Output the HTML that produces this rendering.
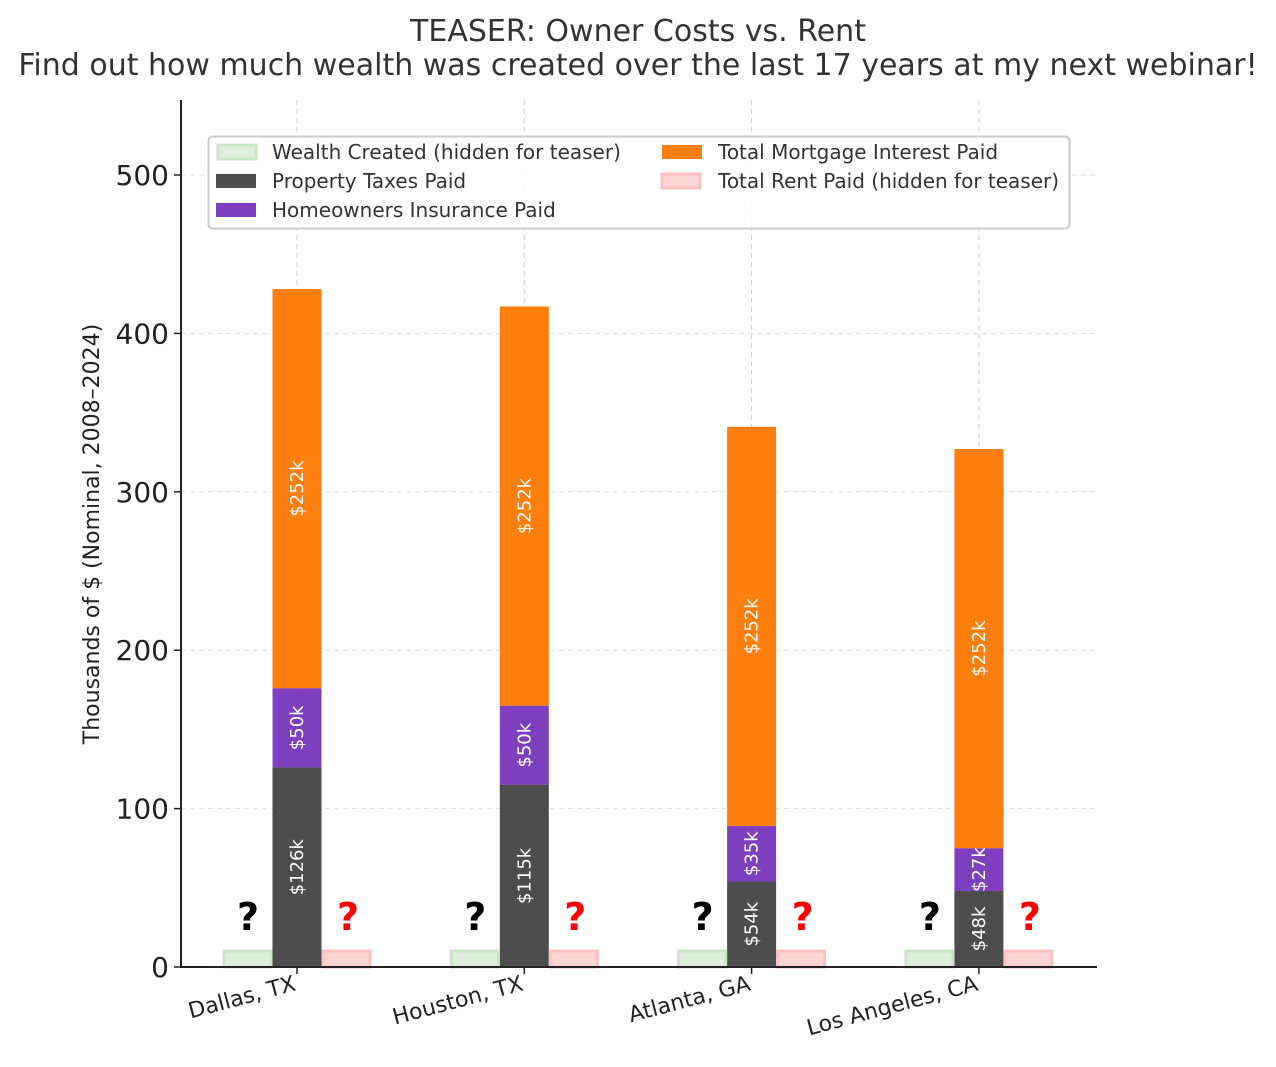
<!DOCTYPE html>
<html><head><meta charset="utf-8"><style>
body{margin:0;background:#fff;overflow:hidden}
svg text{font-family:"DejaVu Sans","Liberation Sans",sans-serif}
</style></head><body>
<svg id="c" width="1276" height="1062" xmlns="http://www.w3.org/2000/svg">
<text x="638" y="41" text-anchor="middle" font-size="30" fill="#333">TEASER: Owner Costs vs. Rent</text>
<text x="638" y="75" text-anchor="middle" font-size="30" fill="#333">Find out how much wealth was created over the last 17 years at my next webinar!</text>
<g id="grid"></g><g id="bars"></g>
<line x1="181" y1="100" x2="181" y2="967" stroke="#222" stroke-width="2"/>
<line x1="180" y1="967" x2="1097" y2="967" stroke="#222" stroke-width="2"/>
<text transform="translate(99,534) rotate(-90)" text-anchor="middle" font-size="22" fill="#222">Thousands of $ (Nominal, 2008–2024)</text>
<g>
<rect x="208.5" y="136.5" width="861" height="92" rx="4" fill="#fff" fill-opacity="0.85" stroke="#ccc" stroke-width="2"/>
<rect x="218" y="145" width="38" height="14" fill="#dfeedd" stroke="#cbe6c7" stroke-width="3"/>
<text x="272" y="159" font-size="20" fill="#333">Wealth Created (hidden for teaser)</text>
<rect x="216" y="174" width="40" height="14" fill="#4d4d4d"/>
<text x="272" y="188" font-size="20" fill="#333">Property Taxes Paid</text>
<rect x="216" y="203" width="40" height="14" fill="#7e3fbf"/>
<text x="272" y="217" font-size="20" fill="#333">Homeowners Insurance Paid</text>
<rect x="662" y="145" width="40" height="14" fill="#ff7f0e"/>
<text x="718" y="159" font-size="20" fill="#333">Total Mortgage Interest Paid</text>
<rect x="662" y="174" width="38" height="14" fill="#ffd6d6" stroke="#ffc0c0" stroke-width="3"/>
<text x="718" y="188" font-size="20" fill="#333">Total Rent Paid (hidden for teaser)</text>
</g>
</svg>
<script>
const categories=["Dallas, TX","Houston, TX","Atlanta, GA","Los Angeles, CA"];
const taxes=[126,115,54,48];
const insurance=[50,50,35,27];
const interest=[252,252,252,252];
const hiddenValue=[11,11,11,11];
const yTicks=[0,100,200,300,400,500];
const NS="http://www.w3.org/2000/svg";
const y=v=>967-v*1.584;
const x=i=>297+i*227.3;
function el(t,a,p){const e=document.createElementNS(NS,t);for(const k in a)e.setAttribute(k,a[k]);p.appendChild(e);return e;}
const grid=document.getElementById('grid'),bars=document.getElementById('bars');
yTicks.forEach(v=>{
 if(v>0){const l=el('line',{x1:181,x2:1097,y1:y(v),y2:y(v),stroke:'#ddd','stroke-dasharray':'5,4'},grid);
 
 }
 el('line',{x1:174,x2:181,y1:y(v),y2:y(v),stroke:'#222','stroke-width':1.5},grid);
 const t=el('text',{x:169,y:y(v)+10,'text-anchor':'end','font-size':28,fill:'#222'},grid);t.textContent=v;
 
 
});
categories.forEach((c,i)=>{
 const cx=x(i);
 const gl=el('line',{x1:cx,x2:cx,y1:100,y2:967,stroke:'#ccc','stroke-dasharray':'5,4'},grid);
 
 
 el('line',{x1:cx,x2:cx,y1:967,y2:974,stroke:'#222','stroke-width':1.5},grid);
 const segs=[[0,taxes[i],'#4d4d4d','taxes'],[taxes[i],insurance[i],'#7e3fbf','insurance'],[taxes[i]+insurance[i],interest[i],'#ff7f0e','interest']];
 segs.forEach(([b,h,col,n])=>{
  const r=el('rect',{x:cx-24.5,y:y(b+h),width:49,height:y(b)-y(b+h),fill:col},bars);
  
  
  const my=(y(b)+y(b+h))/2;
  const t=el('text',{transform:`translate(${cx+6},${my}) rotate(-90)`,'text-anchor':'middle','font-size':18,fill:'#fff'},bars);
  t.textContent='$'+h+'k';
  
  
 });
 const g=el('rect',{x:cx-73,y:y(hiddenValue[i])+1.5,width:47,height:y(0)-y(hiddenValue[i])-1.5,fill:'#dfeedd',stroke:'#cbe6c7','stroke-width':3},bars);
 
 
 const p=el('rect',{x:cx+26,y:y(hiddenValue[i])+1.5,width:47,height:y(0)-y(hiddenValue[i])-1.5,fill:'#ffd6d6',stroke:'#ffc0c0','stroke-width':3},bars);
 
 
 const q1=el('text',{x:cx-49,y:930,'text-anchor':'middle','font-size':38,'font-weight':'bold',fill:'#000'},bars);q1.textContent='?';
 
 
 const q2=el('text',{x:cx+51,y:930,'text-anchor':'middle','font-size':38,'font-weight':'bold',fill:'#f00'},bars);q2.textContent='?';
 
 
 const t=el('text',{transform:`translate(${cx},990) rotate(-15)`,'text-anchor':'end','font-size':22,fill:'#222'},bars);t.textContent=c;
 
 
});
</script>
</body></html>
